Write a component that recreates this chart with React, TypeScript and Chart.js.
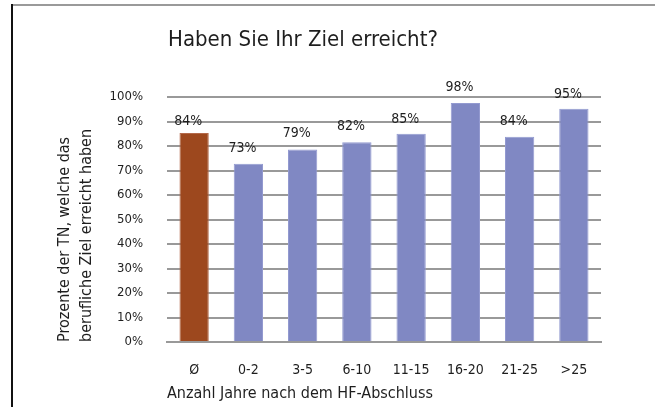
import React, { useEffect, useRef } from "react";
import { Chart, registerables } from "chart.js";

Chart.register(...registerables);

const categories = ["Ø", "0-2", "3-5", "6-10", "11-15", "16-20", "21-25", ">25"];
const barValues = [85.3, 72.8, 78.6, 81.5, 85, 97.6, 83.8, 95.2];
const labelValues = [84, 73, 79, 82, 85, 98, 84, 95];
const yMin = 0;
const yMax = 100;
const yStep = 10;
const chartTitle = "Haben Sie Ihr Ziel erreicht?";
const yAxisTitle = ["Prozente der TN, welche das", "berufliche Ziel erreicht haben"];
const xAxisTitle = "Anzahl Jahre nach dem HF-Abschluss";

const FONT = '"DejaVu Sans Condensed", "DejaVu Sans", sans-serif';
const TEXT = "#1e1e1e";
const BROWN = "#9D481E";
const BLUE = "#8088C3";
const BROWN_EDGE = "#B4694A";
const BLUE_EDGE = "#939AD0";
const GRID = "#999999";

const W = 655;
const H = 407;

export default function App() {
  const ref = useRef<HTMLCanvasElement | null>(null);

  useEffect(() => {
    if (!ref.current) return;

    const extras = {
      id: "extras",
      afterDatasetsDraw(chart: any) {
        const ctx = chart.ctx;
        const meta = chart.getDatasetMeta(0);
        const ys = chart.scales.y;
        ctx.save();
        ctx.fillStyle = TEXT;
        ctx.font = `14px ${FONT}`;
        ctx.textAlign = "center";
        ctx.textBaseline = "alphabetic";
        meta.data.forEach((bar: any, i: number) => {
          const y = ys.getPixelForValue(labelValues[i]) - 11;
          ctx.fillText(`${labelValues[i]}%`, bar.x - 6, y);
        });
        ctx.restore();
      },
      afterDraw(chart: any) {
        const ctx = chart.ctx;
        ctx.save();
        ctx.fillStyle = TEXT;
        ctx.font = `22px ${FONT}`;
        ctx.textAlign = "left";
        ctx.textBaseline = "alphabetic";
        ctx.fillText(chartTitle, chart.chartArea.left + 1, 46);
        ctx.restore();
      },
    };

    const chart = new Chart(ref.current, {
      type: "bar",
      data: {
        labels: categories,
        datasets: [
          {
            data: barValues,
            backgroundColor: categories.map((_, i) => (i === 0 ? BROWN : BLUE)),
            borderColor: categories.map((_, i) => (i === 0 ? BROWN_EDGE : BLUE_EDGE)),
            borderWidth: 1,
            categoryPercentage: 1,
            barPercentage: 0.54,
          },
        ],
      },
      options: {
        responsive: false,
        animation: false,
        layout: { padding: { left: 44, right: 54, top: 97, bottom: 0 } },
        plugins: {
          legend: { display: false },
          title: { display: false },
          tooltip: { enabled: false },
        },
        scales: {
          x: {
            grid: { display: false },
            border: { display: true, color: GRID, width: 2 },
            ticks: { color: TEXT, font: { family: FONT, size: 14 }, padding: 12, maxRotation: 0 },
            title: {
              display: true,
              text: xAxisTitle,
              align: "start",
              color: TEXT,
              font: { family: FONT, size: 16 },
              padding: { top: 0, bottom: 4 },
            },
            afterFit(scale: any) {
              scale.height = 65;
            },
          },
          y: {
            min: yMin,
            max: yMax,
            grid: { color: GRID, lineWidth: 2, drawTicks: false },
            border: { display: false },
            ticks: {
              stepSize: yStep,
              color: TEXT,
              font: { family: FONT, size: 13 },
              padding: 24,
              callback: (v: any) => `${v}%`,
            },
            title: {
              display: true,
              text: yAxisTitle,
              align: "start",
              color: TEXT,
              font: { family: FONT, size: 16, lineHeight: 1.375 },
              padding: { top: 10, bottom: 0 },
            },
            afterFit(scale: any) {
              scale.width = 123;
            },
          },
        },
      },
      plugins: [extras],
    });

    return () => chart.destroy();
  }, []);

  return (
    <div style={{ position: "absolute", left: 0, top: 0, width: W, height: H, background: "#fff" }}>
      <canvas ref={ref} width={W} height={H} style={{ position: "absolute", left: 0, top: 0 }} />
      <div style={{ position: "absolute", left: 12, top: 4, width: W - 12, height: 2, background: "#9a9a9a" }} />
      <div style={{ position: "absolute", left: 11, top: 4, width: 2, height: H - 4, background: "#111" }} />
    </div>
  );
}
